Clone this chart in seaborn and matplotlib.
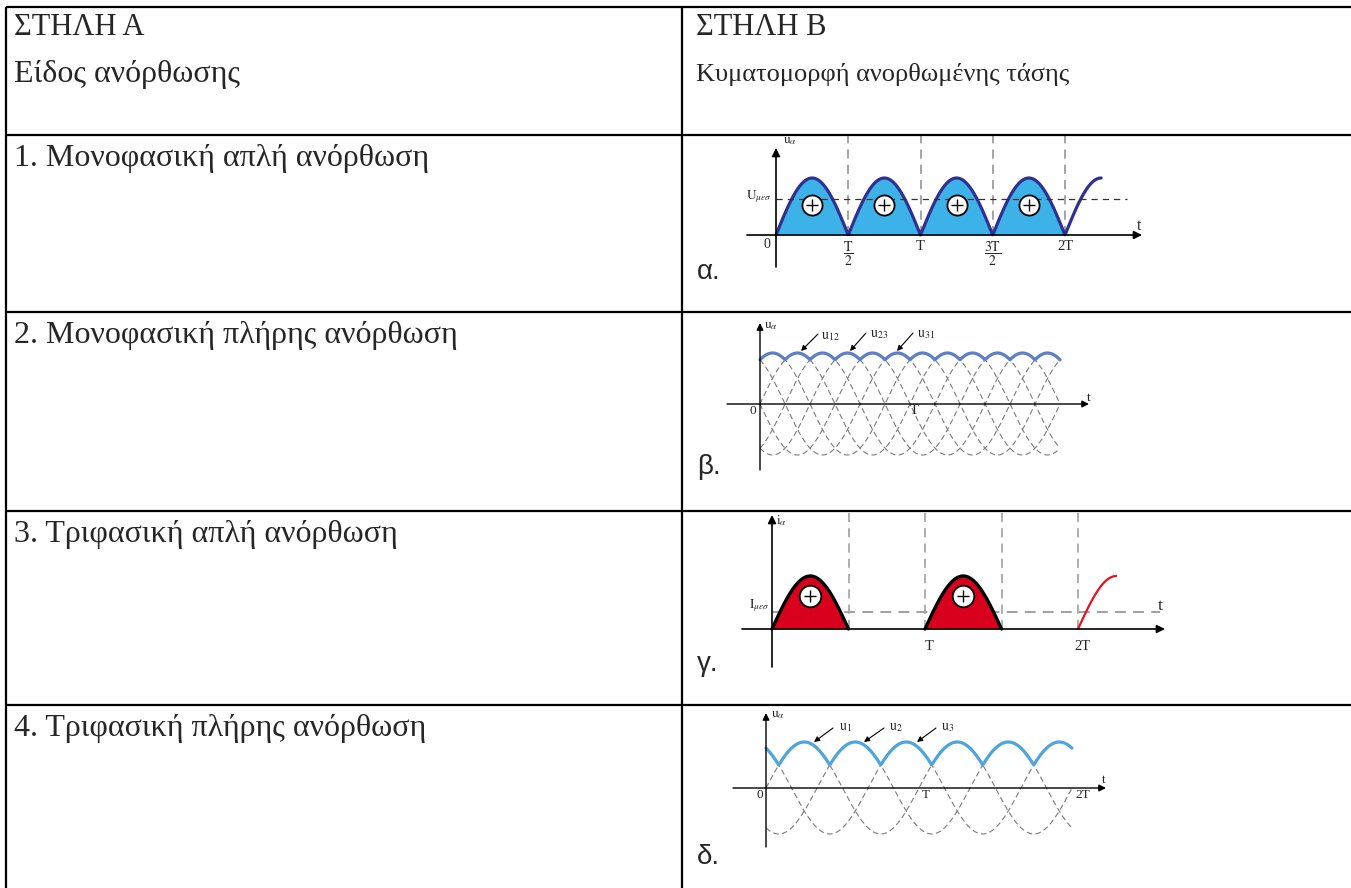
import numpy as np
import matplotlib
matplotlib.use("Agg")
import matplotlib.pyplot as plt
import seaborn as sns

# ---------------- data ----------------
col_a_header = ["ΣΤΗΛΗ Α", "Είδος ανόρθωσης"]
col_b_header = ["ΣΤΗΛΗ Β", "Κυματομορφή ανορθωμένης τάσης"]
rectification_types = ["1. Μονοφασική απλή ανόρθωση",
                       "2. Μονοφασική πλήρης ανόρθωση",
                       "3. Τριφασική απλή ανόρθωση",
                       "4. Τριφασική πλήρης ανόρθωση"]
waveform_letters = ["α.", "β.", "γ.", "δ."]

# waveform α : full-wave single phase (|sin|), times in periods
alpha_end = 2.25
alpha_fill_end = 2.0
alpha_guides = [0.5, 1.0, 1.5, 2.0]
alpha_tick_pos = [0, 0.5, 1.0, 1.5, 2.0]
alpha_tick_labels = ["0", r"$\dfrac{\mathrm{T}}{2}$", "T", r"$\dfrac{\mathrm{3T}}{2}$", "2T"]
alpha_plus_pos = [0.25, 0.75, 1.25, 1.75]

# waveform β : six phase-shifted sines and their envelope
beta_phases_deg = [0, 60, 120, 180, 240, 300]
beta_end = 2.0
beta_labels = [r"$\mathrm{u}_{12}$", r"$\mathrm{u}_{23}$", r"$\mathrm{u}_{31}$"]
beta_tick_labels = ["0", "T"]

# waveform γ : half-wave pulses
gamma_pulses = [(0.0, 0.5), (1.0, 1.5)]
gamma_tail = (2.0, 2.25)
gamma_guides = [0.5, 1.0, 1.5, 2.0]
gamma_tick_pos = [1.0, 2.0]
gamma_tick_labels = ["T", "2T"]
gamma_plus_pos = [0.25, 1.25]

# waveform δ : three phase sines and their envelope
delta_phases_deg = [0, 120, 240]
delta_end = 2.0
delta_labels = [r"$\mathrm{u}_{1}$", r"$\mathrm{u}_{2}$", r"$\mathrm{u}_{3}$"]
delta_tick_labels = ["0", "T", "2T"]

# ---------------- style ----------------
sns.set_theme(style="white")
plt.rcParams['font.family'] = ['Liberation Serif', 'DejaVu Serif']
plt.rcParams['mathtext.fontset'] = 'stix'

W, H = 1351, 888
fig = plt.figure(figsize=(W / 100, H / 100), dpi=100)

COL_X = 682
ROW_Y = [7, 135, 312, 511, 705, 888]
FS_HEAD = 22
FS_A = 23
FS_B = 18
SMALL_FS = 9.5
GRID = '#8c8c8c'


def make_cell_ax(top, bottom, ox, oy, tpx, apx):
    left, right = COL_X, W
    ax = fig.add_axes([left / W, 1 - bottom / H, (right - left) / W, (bottom - top) / H])
    ax.set_xlim((left - ox) / tpx, (right - ox) / tpx)
    ax.set_ylim((oy - bottom) / apx, (oy - top) / apx)
    ax.set_axis_off()

    def P(px, py):
        return ((px - ox) / tpx, (oy - py) / apx)
    return ax, P


def arrow(ax, start, end, lw=1.2, ms=12, color='black'):
    ax.annotate('', xy=end, xytext=start,
                arrowprops=dict(arrowstyle='-|>', color=color, lw=lw,
                                mutation_scale=ms, shrinkA=0, shrinkB=0))


def line(ax, x, y, color, lw, ls='-'):
    sns.lineplot(x=x, y=y, ax=ax, color=color, lw=lw, linestyle=ls,
                 sort=False, estimator=None, legend=False)


def plus_marks(ax, xs, ys, s=200):
    ax.scatter(xs, ys, s=s, facecolor='white', edgecolor='black', lw=1.3, zorder=6)
    ax.scatter(xs, ys, s=s * 0.35, marker='+', color='black', lw=1.0, zorder=7)

# ---------------- α ----------------
top, bot = ROW_Y[1], ROW_Y[2]
ox, oy, tpx, apx = 776, 235, 144.5, 57
ax, P = make_cell_ax(top, bot, ox, oy, tpx, apx)
t = np.linspace(0, alpha_end, 800)
u = np.abs(np.sin(2 * np.pi * t))
m = t <= alpha_fill_end
ax.fill_between(t[m], 0, u[m], color='#3DB2E8', lw=0, zorder=2)
ax.vlines(alpha_guides, 0, ax.get_ylim()[1], colors=GRID, lw=1.1, linestyles=(0, (6, 4)), zorder=1)
ax.hlines(2 / np.pi, 0, P(1127, 0)[0], colors='#333333', lw=0.9, linestyles=(0, (5, 4)), zorder=3)
line(ax, t, u, '#2E3192', 2.3)
plus_marks(ax, alpha_plus_pos, [P(0, 205)[1]] * len(alpha_plus_pos), s=210)
arrow(ax, P(747, oy), P(1142, oy))
arrow(ax, P(ox, 267), P(ox, 148))
for xp, lab in zip(alpha_tick_pos, alpha_tick_labels):
    if lab == "0":
        ax.text(*P(767, 245), lab, ha='center', va='center', fontsize=SMALL_FS + 0.5)
    elif "frac" in lab:
        ax.text(xp, P(0, 240)[1], lab, ha='center', va='top', fontsize=SMALL_FS + 0.5)
    else:
        ax.text(xp, P(0, 246)[1], lab, ha='center', va='center', fontsize=SMALL_FS + 1)
ax.text(*P(1139, 226), "t", ha='center', va='center', fontsize=SMALL_FS + 2)
ax.text(*P(783, 141), r"$\mathrm{u}_{\alpha}$", ha='left', va='center', fontsize=SMALL_FS)
ax.text(*P(772, 197), r"$\mathrm{U}_{\mu\varepsilon\sigma}$", ha='right', va='center', fontsize=SMALL_FS)

# ---------------- β ----------------
top, bot = ROW_Y[2], ROW_Y[3]
ox, oy, tpx, apx = 760, 404, 150, 51
ax, P = make_cell_ax(top, bot, ox, oy, tpx, apx)
t = np.linspace(0, beta_end, 1200)
curves = [np.sin(2 * np.pi * t + np.deg2rad(p)) for p in beta_phases_deg]
for c in curves:
    line(ax, t, c, '#7a7a7a', 0.8, ls=(0, (5, 3)))
line(ax, t, np.max(curves, axis=0), '#5B7FC8', 2.3)
arrow(ax, P(727, oy), P(1089, oy), lw=1.0, ms=10)
arrow(ax, P(ox, 470), P(ox, 323), lw=1.0, ms=10)
ax.text(*P(753, 411), beta_tick_labels[0], ha='center', va='center', fontsize=SMALL_FS)
ax.text(*P(914, 411), beta_tick_labels[1], ha='center', va='center', fontsize=SMALL_FS + 1)
ax.text(*P(1089, 398), "t", ha='center', va='center', fontsize=SMALL_FS)
ax.text(*P(764, 326), r"$\mathrm{u}_{\alpha}$", ha='left', va='center', fontsize=SMALL_FS)
for lab, (tx, ty), (sx, sy), (ex, ey) in zip(
        beta_labels,
        [(821, 336), (870, 334), (917, 334)],
        [(818, 334), (866, 333), (913, 333)],
        [(801, 351), (850, 351), (897, 351)]):
    ax.text(*P(tx, ty), lab, ha='left', va='center', fontsize=SMALL_FS + 0.5)
    arrow(ax, P(sx, sy), P(ex, ey), lw=0.8, ms=8)

# ---------------- γ ----------------
top, bot = ROW_Y[3], ROW_Y[4]
ox, oy, tpx, apx = 772, 629, 153, 53
ax, P = make_cell_ax(top, bot, ox, oy, tpx, apx)
ax.vlines(gamma_guides, 0, ax.get_ylim()[1], colors='#999999', lw=1.1, linestyles=(0, (6, 4)), zorder=1)
ax.hlines(1 / np.pi, 0, P(1160, 0)[0], colors='#999999', lw=1.3, linestyles=(0, (6, 4)), zorder=1)
for a, b in gamma_pulses:
    tp = np.linspace(a, b, 300)
    up = np.sin(2 * np.pi * tp)
    ax.fill_between(tp, 0, up, color='#D8001C', lw=0, zorder=2)
    line(ax, tp, up, 'black', 2.4)
tp = np.linspace(*gamma_tail, 200)
line(ax, tp, np.sin(2 * np.pi * tp), '#E8101E', 1.6)
plus_marks(ax, gamma_plus_pos, [P(0, 596)[1]] * len(gamma_plus_pos), s=240)
arrow(ax, P(742, oy), P(1165, oy))
arrow(ax, P(ox, 667), P(ox, 515))
for xp, lab in zip(gamma_tick_pos, gamma_tick_labels):
    ax.text(xp + 0.03, P(0, 646)[1], lab, ha='center', va='center', fontsize=SMALL_FS + 1)
ax.text(*P(1160, 606), "t", ha='center', va='center', fontsize=SMALL_FS + 3)
ax.text(*P(776, 521), r"$\mathrm{i}_{\alpha}$", ha='left', va='center', fontsize=SMALL_FS)
ax.text(*P(770, 606), r"$\mathrm{I}_{\mu\varepsilon\sigma}$", ha='right', va='center', fontsize=SMALL_FS)

# ---------------- δ ----------------
top, bot = ROW_Y[4], ROW_Y[5]
ox, oy, tpx, apx = 766, 788, 153, 46
ax, P = make_cell_ax(top, bot, ox, oy, tpx, apx)
t = np.linspace(0, delta_end, 1200)
curves = [np.sin(2 * np.pi * t + np.deg2rad(p)) for p in delta_phases_deg]
for c in curves:
    line(ax, t, c, '#7a7a7a', 0.8, ls=(0, (5, 3)))
line(ax, t, np.max(curves, axis=0), '#4FA4DC', 2.3)
arrow(ax, P(733, oy), P(1106, oy), lw=1.0, ms=10)
arrow(ax, P(ox, 847), P(ox, 713), lw=1.0, ms=10)
for (px, py), lab in zip([(760, 795), (926, 795), (1083, 795)], delta_tick_labels):
    ax.text(*P(px, py), lab, ha='center', va='center', fontsize=SMALL_FS)
ax.text(*P(1104, 780), "t", ha='center', va='center', fontsize=SMALL_FS)
ax.text(*P(771, 715), r"$\mathrm{u}_{\alpha}$", ha='left', va='center', fontsize=SMALL_FS)
for lab, (tx, ty), (sx, sy), (ex, ey) in zip(
        delta_labels,
        [(839, 727), (889, 727), (941, 728)],
        [(833, 728), (884, 728), (936, 728)],
        [(814, 742), (864, 742), (917, 742)]):
    ax.text(*P(tx, ty), lab, ha='left', va='center', fontsize=SMALL_FS + 0.5)
    arrow(ax, P(sx, sy), P(ex, ey), lw=0.8, ms=8)

# ---------------- table ----------------
tab = fig.add_axes([0, 0, 1, 1], zorder=10)
tab.set_xlim(0, W)
tab.set_ylim(H, 0)
tab.set_axis_off()
tab.patch.set_alpha(0)
LW = 1.6
tab.vlines([6, COL_X], ROW_Y[0], H + 2, colors='black', lw=LW)
tab.hlines(ROW_Y[:-1], 6, W + 2, colors='black', lw=LW)

tab.text(14, 35, col_a_header[0], fontsize=FS_HEAD, va='baseline', ha='left')
tab.text(14, 82, col_a_header[1], fontsize=FS_A, va='baseline', ha='left')
tab.text(696, 35, col_b_header[0], fontsize=FS_HEAD, va='baseline', ha='left')
tab.text(696, 81, col_b_header[1], fontsize=FS_B + 1, va='baseline', ha='left')
for r, lab in enumerate(rectification_types):
    tab.text(14, ROW_Y[r + 1] + 31, lab, fontsize=FS_A, va='baseline', ha='left')

for lab, yb in zip(waveform_letters, [279, 474, 671, 864]):
    tab.text(697, yb, lab, fontsize=FS_B + 2, va='baseline', ha='left',
             family=['Liberation Sans', 'DejaVu Sans'])

fig.savefig("out.png", dpi=100)
